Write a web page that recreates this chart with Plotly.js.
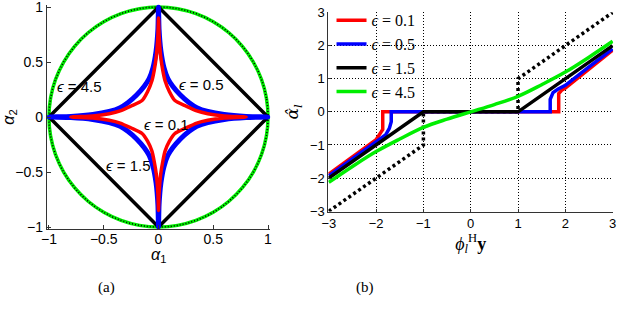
<!DOCTYPE html>
<html>
<head>
<meta charset="utf-8">
<script src="https://cdn.plot.ly/plotly-3.0.1.min.js"></script>
<style>html,body{margin:0;padding:0;background:#fff;}#chart{width:640px;height:328px;}</style>
</head>
<body>
<div id="chart"></div>
<script>
// ---------- Panel (a): unit balls ----------
// eps = 4.5 (circle)
const circleX = [1,0.985,0.94,0.866,0.766,0.643,0.5,0.342,0.174,0,-0.174,-0.342,-0.5,-0.643,-0.766,-0.866,-0.94,-0.985,-1,-0.985,-0.94,-0.866,-0.766,-0.643,-0.5,-0.342,-0.174,0,0.174,0.342,0.5,0.643,0.766,0.866,0.94,0.985,1];
const circleY = [0,0.174,0.342,0.5,0.643,0.766,0.866,0.94,0.985,1,0.985,0.94,0.866,0.766,0.643,0.5,0.342,0.174,0,-0.174,-0.342,-0.5,-0.643,-0.766,-0.866,-0.94,-0.985,-1,-0.985,-0.94,-0.866,-0.766,-0.643,-0.5,-0.342,-0.174,0];
// eps = 1.5 (diamond)
const diamondX = [1,0,-1,0,1];
const diamondY = [0,1,0,-1,0];
// eps = 0.5 (blue star)
const blueStarX = [1,0.8,0.6,0.45,0.35,0.28,0.2,0.13,0.085,0.05,0.022,0.005,0,
  -0.005,-0.022,-0.05,-0.085,-0.13,-0.2,-0.28,-0.35,-0.45,-0.6,-0.8,-1,
  -0.8,-0.6,-0.45,-0.35,-0.28,-0.2,-0.13,-0.085,-0.05,-0.022,-0.005,0,
  0.005,0.022,0.05,0.085,0.13,0.2,0.28,0.35,0.45,0.6,0.8,1];
const blueStarY = [0,0.005,0.022,0.05,0.085,0.13,0.2,0.28,0.35,0.45,0.6,0.8,1,
  0.8,0.6,0.45,0.35,0.28,0.2,0.13,0.085,0.05,0.022,0.005,0,
  -0.005,-0.022,-0.05,-0.085,-0.13,-0.2,-0.28,-0.35,-0.45,-0.6,-0.8,-1,
  -0.8,-0.6,-0.45,-0.35,-0.28,-0.2,-0.13,-0.085,-0.05,-0.022,-0.005,0];
// eps = 0.1 (red star)
const redStarX = [0.8,0.6,0.45,0.35,0.25,0.15,0.1,0.06,0.04,0.02,0.005,0,
  -0.005,-0.02,-0.04,-0.06,-0.1,-0.15,-0.25,-0.35,-0.45,-0.6,-0.8,
  -0.6,-0.45,-0.35,-0.25,-0.15,-0.1,-0.06,-0.04,-0.02,-0.005,0,
  0.005,0.02,0.04,0.06,0.1,0.15,0.25,0.35,0.45,0.6,0.8];
const redStarY = [0,0.01,0.03,0.055,0.1,0.15,0.23,0.33,0.42,0.55,0.75,0.9,
  0.75,0.55,0.42,0.33,0.23,0.15,0.1,0.055,0.03,0.01,0,
  -0.01,-0.03,-0.055,-0.1,-0.15,-0.22,-0.31,-0.4,-0.52,-0.7,-0.85,
  -0.7,-0.52,-0.4,-0.31,-0.22,-0.15,-0.1,-0.055,-0.03,-0.01,0];
const labelsA = ["<i>ϵ</i> = 4.5","<i>ϵ</i> = 0.5","<i>ϵ</i> = 0.1","<i>ϵ</i> = 1.5"];
const labelAX = [-0.725, 0.39, 0.07, -0.27];
const labelAY = [0.28, 0.3, -0.065, -0.445];

// ---------- Panel (b): thresholding functions ----------
const redX   = [-3,-2.5,-2,-1.9,-1.86,-1.86,1.86,1.86,1.92,2,2.5,3];
const redY   = [-1.88,-1.36,-0.84,-0.62,-0.53,0,0,0.55,0.65,0.72,1.3,1.86];
const blueX  = [-3,-2.5,-2,-1.8,-1.72,-1.68,-1.68,1.68,1.68,1.74,1.84,2,2.5,3];
const blueY  = [-1.93,-1.43,-0.93,-0.7,-0.5,-0.3,0,0,0.38,0.58,0.68,0.8,1.36,1.9];
const blackX = [-3,-1,1,3];
const blackY = [-2,0,0,2];
const greenX = [-3,-2.5,-2,-1.5,-1,-0.5,0,0.5,1,1.5,2,2.5,3];
const greenY = [-2.13,-1.65,-1.2,-0.82,-0.47,-0.22,0,0.22,0.47,0.82,1.2,1.65,2.13];
const hardX  = [-3,-1,-1,1,1,3];
const hardY  = [-3,-1,0,0,1,3];
const legendNames = ["<i>ϵ</i> = 0.1","<i>ϵ</i> = 0.5","<i>ϵ</i> = 1.5","<i>ϵ</i> = 4.5"];
const ticksA = [-1,-0.5,0,0.5,1];
const ticksB = [-3,-2,-1,0,1,2,3];
const captions = ["(a)","(b)"];

const traces = [
  {x:circleX,y:circleY,xaxis:'x',yaxis:'y',mode:'lines',line:{color:'#00ee00',width:3.5,shape:'spline'},showlegend:false,hoverinfo:'skip'},
  {x:circleX,y:circleY,xaxis:'x',yaxis:'y',mode:'lines',line:{color:'#000',width:1.6,dash:'1px,2px',shape:'spline'},showlegend:false,hoverinfo:'skip'},
  {x:diamondX,y:diamondY,xaxis:'x',yaxis:'y',mode:'lines',line:{color:'#000',width:3.5},showlegend:false},
  {x:blueStarX,y:blueStarY,xaxis:'x',yaxis:'y',mode:'lines',line:{color:'#0000ff',width:5,shape:'spline',smoothing:0.6},showlegend:false},
  {x:redStarX,y:redStarY,xaxis:'x',yaxis:'y',mode:'lines',line:{color:'#ff0000',width:3.5,shape:'spline',smoothing:0.6},showlegend:false},

  {x:hardX,y:hardY,xaxis:'x2',yaxis:'y2',mode:'lines',line:{color:'#000',width:3.5,dash:'3px,3px'},showlegend:false},
  {x:redX,y:redY,xaxis:'x2',yaxis:'y2',mode:'lines',name:legendNames[0],line:{color:'#ff0000',width:3.5}},
  {x:blueX,y:blueY,xaxis:'x2',yaxis:'y2',mode:'lines',name:legendNames[1],line:{color:'#0000ff',width:3.5}},
  {x:blackX,y:blackY,xaxis:'x2',yaxis:'y2',mode:'lines',name:legendNames[2],line:{color:'#000',width:3.5}},
  {x:greenX,y:greenY,xaxis:'x2',yaxis:'y2',mode:'lines',name:legendNames[3],line:{color:'#00ee00',width:3.5,shape:'spline'}}
];

const sans = 'Liberation Sans, Arial, sans-serif';
const serif = 'Liberation Serif, Times New Roman, serif';

const annotations = labelsA.map((t,i)=>({
  text:t, x:labelAX[i], y:labelAY[i], xref:'x', yref:'y', showarrow:false,
  font:{family:sans,size:15,color:'#000'}
}));
annotations.push({text:captions[0],x:0.167,y:0.125,xref:'paper',yref:'paper',xanchor:'center',yanchor:'middle',showarrow:false,font:{family:serif,size:15,color:'#000'}});
annotations.push({text:captions[1],x:0.570,y:0.125,xref:'paper',yref:'paper',xanchor:'center',yanchor:'middle',showarrow:false,font:{family:serif,size:15,color:'#000'}});
// left x-axis title placed exactly
annotations.push({text:'<i>α</i><sub>1</sub>',x:0,y:0.222,xref:'x',yref:'paper',xanchor:'center',yanchor:'middle',showarrow:false,font:{family:sans,size:16,color:'#000'}});

const gridDash = '1px,2px';
const layout = {
  width:640, height:328,
  margin:{l:0,r:0,t:0,b:0},
  paper_bgcolor:'#fff', plot_bgcolor:'rgba(0,0,0,0)',
  showlegend:true,
  legend:{x:0.518,y:0.99,xanchor:'left',yanchor:'top',bgcolor:'rgba(0,0,0,0)',
          font:{family:serif,size:16,color:'#000'},itemwidth:30,tracegroupgap:0},
  xaxis:{domain:[0.0731,0.4222],range:[-1.02,1.02],tickvals:ticksA,
         showgrid:false,zeroline:false,showline:true,linecolor:'#333',linewidth:1,
         ticks:'inside',ticklen:4,tickcolor:'#333',tickfont:{family:sans,size:14,color:'#000'},
         ticklabelstandoff:-3,ticklabeloverflow:'allow',anchor:'y'},
  yaxis:{domain:[0.3012,0.9853],range:[-1.02,1.02],tickvals:ticksA,
         showgrid:false,zeroline:false,showline:true,linecolor:'#333',linewidth:1,
         ticks:'inside',ticklen:4,tickcolor:'#333',tickfont:{family:sans,size:14,color:'#000'},
         ticklabeloverflow:'allow',
         title:{text:'<i>α</i><sub>2</sub>',font:{family:sans,size:16,color:'#000'},standoff:4},anchor:'x'},
  xaxis2:{domain:[0.513,0.958],range:[-3.01,3.01],tickvals:ticksB,
         showgrid:true,gridcolor:'#000',griddash:gridDash,gridwidth:1,zeroline:false,
         showline:true,linecolor:'#333',linewidth:1,
         ticks:'inside',ticklen:3,tickcolor:'#333',tickfont:{family:sans,size:13,color:'#000'},
         ticklabeloverflow:'allow',
         title:{text:'<i>ϕ</i><sub><i>l</i></sub><sup>H</sup><b>y</b>',font:{family:serif,size:18,color:'#000'},standoff:2},anchor:'y2'},
  yaxis2:{domain:[0.355,0.963],range:[-3.01,3.01],tickvals:ticksB,
         showgrid:true,gridcolor:'#000',griddash:gridDash,gridwidth:1,zeroline:false,
         showline:true,linecolor:'#333',linewidth:1,
         ticks:'inside',ticklen:3,tickcolor:'#333',tickfont:{family:sans,size:13,color:'#000'},
         ticklabeloverflow:'allow',
         title:{text:'<i>α̂</i><sub><i>l</i></sub>',font:{family:'DejaVu Serif, serif',size:17,color:'#000'},standoff:6},anchor:'x2'},
  annotations:annotations
};

Plotly.newPlot('chart', traces, layout, {displayModeBar:false, staticPlot:true});
</script>
</body>
</html>
